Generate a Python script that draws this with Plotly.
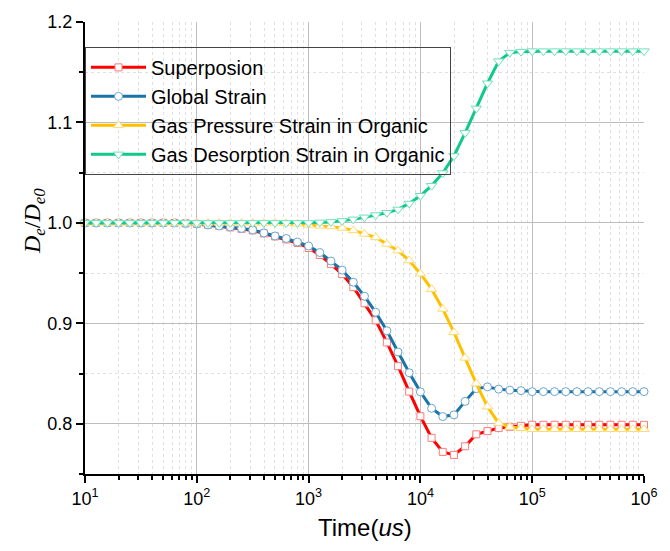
import numpy as np
import plotly.graph_objects as go

# Sampling grid: 10 points per decade from 10^1 to 10^6 us
time_us = np.logspace(1, 6, 51)

superposition = [
    1.000, 1.000, 1.000, 1.000, 1.000, 1.000, 1.000, 1.000, 1.000, 0.9995,
    0.999, 0.998, 0.997, 0.9955, 0.994, 0.9925, 0.9895, 0.9865, 0.9835, 0.980,
    0.975, 0.968, 0.959, 0.949, 0.936, 0.920, 0.903, 0.881, 0.8574, 0.832,
    0.8075, 0.786, 0.772, 0.769, 0.7776, 0.7895, 0.7927, 0.7957, 0.797, 0.798,
    0.799, 0.799, 0.799, 0.799, 0.799, 0.799, 0.799, 0.799, 0.799, 0.799, 0.799,
]
global_strain = [
    1.000, 1.000, 1.000, 1.000, 1.000, 1.000, 1.000, 1.000, 1.000, 0.9995,
    0.999, 0.998, 0.997, 0.996, 0.9945, 0.993, 0.990, 0.987, 0.9845, 0.981,
    0.977, 0.9705, 0.962, 0.953, 0.941, 0.927, 0.911, 0.8926, 0.8715, 0.8508,
    0.8318, 0.8154, 0.8072, 0.8089, 0.8223, 0.835, 0.8367, 0.8345, 0.8335, 0.833,
    0.832, 0.832, 0.832, 0.832, 0.832, 0.832, 0.832, 0.832, 0.832, 0.832, 0.832,
]
gas_pressure = [
    1.000, 1.000, 1.000, 1.000, 1.000, 1.000, 1.000, 1.000, 1.000, 1.000,
    1.000, 1.000, 1.000, 1.000, 1.000, 1.000, 1.000, 1.000, 0.9995, 0.999,
    0.998, 0.997, 0.9965, 0.995, 0.9925, 0.989, 0.9855, 0.979, 0.9724, 0.9626,
    0.9494, 0.934, 0.9143, 0.891, 0.8656, 0.840, 0.817, 0.8006, 0.7967, 0.7955,
    0.7945, 0.7945, 0.7945, 0.7945, 0.7945, 0.7945, 0.7945, 0.7945, 0.7945, 0.7945, 0.7945,
]
gas_desorption = [
    1.000, 1.000, 1.000, 1.000, 1.000, 1.000, 1.000, 1.000, 1.000, 1.000,
    1.000, 1.000, 1.000, 1.000, 1.000, 1.000, 1.000, 1.000, 1.000, 1.000,
    1.000, 1.0005, 1.001, 1.002, 1.0035, 1.0055, 1.0078, 1.010, 1.0134, 1.0193,
    1.027, 1.037, 1.0496, 1.0666, 1.0897, 1.114, 1.139, 1.161, 1.1695, 1.1705,
    1.171, 1.171, 1.171, 1.171, 1.171, 1.171, 1.171, 1.171, 1.171, 1.171, 1.171,
]

series = [
    ("Superposion", superposition, "#FF0000", "#FF7A7A", "square", 7),
    ("Global Strain", global_strain, "#1A74A6", "#6AA6CC", "circle", 8),
    ("Gas Pressure Strain in Organic", gas_pressure, "#FFC000", "#FFD970", "triangle-up", 9),
    ("Gas Desorption Strain in Organic", gas_desorption, "#10C98A", "#70E0B8", "triangle-down", 9),
]

fig = go.Figure()
for name, vals, color, edge, symbol, size in series:
    fig.add_trace(go.Scatter(
        x=time_us, y=vals, name=name, mode="lines+markers",
        line=dict(color=color, width=3),
        marker=dict(symbol=symbol, size=size, color="white",
                    line=dict(color=edge, width=1)),
        cliponaxis=False,
    ))

tick_font = dict(family="Liberation Sans, Arial", size=18, color="black")
decades = [10, 100, 1000, 10000, 100000, 1000000]
decade_text = [f"10<sup>{p}</sup>" for p in range(1, 7)]

fig.update_layout(
    width=670, height=551,
    margin=dict(l=85, r=14, t=17, b=77),
    paper_bgcolor="white", plot_bgcolor="white",
    showlegend=True,
    legend=dict(
        x=0.0, y=0.945, xanchor="left", yanchor="top",
        bgcolor="rgba(0,0,0,0)", bordercolor="#444", borderwidth=1,
        font=dict(family="Liberation Sans, Arial", size=20, color="black"),
        itemwidth=55, tracegroupgap=0,
    ),
    xaxis=dict(
        type="log", range=[1, 6],
        tickvals=decades, ticktext=decade_text,
        tickfont=tick_font,
        showline=True, linecolor="black", linewidth=2,
        ticks="outside", ticklen=7, tickwidth=2, tickcolor="black",
        showgrid=True, gridcolor="#BDBDBD", gridwidth=1,
        zeroline=False,
        minor=dict(dtick="D1", ticks="outside", ticklen=4, tickwidth=1.5,
                   tickcolor="black", showgrid=True, gridcolor="#E0E0E0",
                   griddash="dot", gridwidth=1),
    ),
    yaxis=dict(
        range=[0.75, 1.2],
        tickvals=[0.8, 0.9, 1.0, 1.1, 1.2],
        ticktext=["0.8", "0.9", "1.0", "1.1", "1.2"],
        tickfont=tick_font,
        showline=True, linecolor="black", linewidth=2,
        ticks="outside", ticklen=7, tickwidth=2, tickcolor="black",
        showgrid=True, gridcolor="#BDBDBD", gridwidth=1,
        zeroline=False,
        minor=dict(dtick=0.05, tick0=0.75, ticks="outside", ticklen=4, tickwidth=1.5,
                   tickcolor="black", showgrid=True, gridcolor="#E0E0E0",
                   griddash="dot", gridwidth=1),
    ),
    annotations=[
        dict(text="Time(<i>us</i>)", xref="paper", yref="paper",
             x=0.5, y=-0.118, xanchor="center", yanchor="middle",
             showarrow=False,
             font=dict(family="Liberation Sans, Arial", size=24, color="black")),
        dict(text="<i>D<sub>e</sub></i>/<i>D<sub>e0</sub></i>", xref="paper", yref="paper",
             x=-0.091, y=0.56, xanchor="center", yanchor="middle",
             textangle=-90, showarrow=False,
             font=dict(family="Liberation Serif, Times New Roman", size=24, color="black")),
    ],
)

fig.write_html("out.html")
